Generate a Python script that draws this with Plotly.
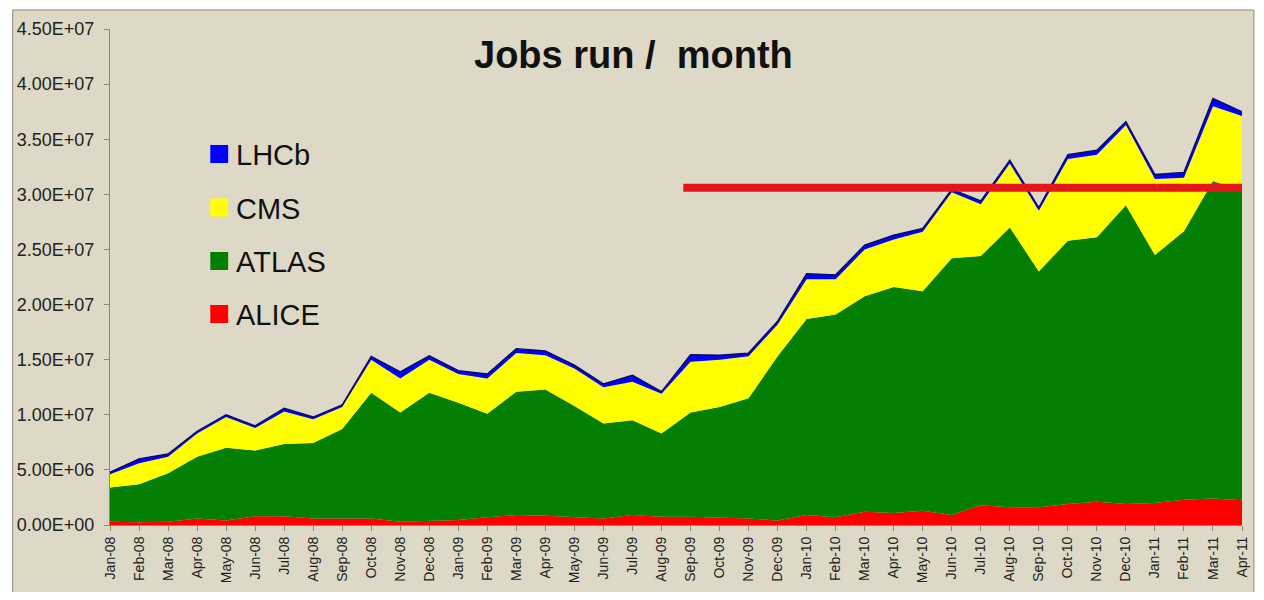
import plotly.graph_objects as go

# months on the x axis
months = [
    "Jan-08", "Feb-08", "Mar-08", "Apr-08", "May-08", "Jun-08", "Jul-08", "Aug-08",
    "Sep-08", "Oct-08", "Nov-08", "Dec-08", "Jan-09", "Feb-09", "Mar-09", "Apr-09",
    "May-09", "Jun-09", "Jul-09", "Aug-09", "Sep-09", "Oct-09", "Nov-09", "Dec-09",
    "Jan-10", "Feb-10", "Mar-10", "Apr-10", "May-10", "Jun-10", "Jul-10", "Aug-10",
    "Sep-10", "Oct-10", "Nov-10", "Dec-10", "Jan-11", "Feb-11", "Mar-11", "Apr-11",
]

# jobs per month, millions
alice = [0.3, 0.25, 0.3, 0.6, 0.4, 0.8, 0.8, 0.6, 0.6, 0.6, 0.3, 0.4, 0.45, 0.7, 0.9, 0.85,
         0.7, 0.6, 0.9, 0.75, 0.75, 0.7, 0.6, 0.4, 0.9, 0.7, 1.2, 1.1, 1.3, 0.9, 1.8, 1.6,
         1.6, 1.9, 2.1, 1.9, 2.0, 2.3, 2.4, 2.25]
atlas = [3.1, 3.45, 4.4, 5.6, 6.6, 5.95, 6.55, 6.85, 8.1, 11.4, 9.9, 11.6, 10.65, 9.4, 11.2, 11.45,
         10.1, 8.6, 8.6, 7.55, 9.45, 10.0, 10.9, 14.9, 17.8, 18.4, 19.55, 20.5, 19.9, 23.3, 22.6, 25.4,
         21.4, 23.9, 24.0, 27.1, 22.5, 24.35, 28.8, 28.05]
cms = [1.2, 1.9, 1.5, 2.1, 2.8, 2.05, 2.95, 2.15, 2.0, 3.0, 3.1, 3.0, 2.6, 3.2, 3.5, 3.1,
       3.4, 3.3, 3.5, 3.6, 4.6, 4.3, 3.8, 2.9, 3.6, 3.2, 4.25, 4.3, 5.4, 6.0, 4.7, 5.8,
       5.5, 7.4, 7.5, 7.3, 6.9, 4.85, 6.8, 6.8]
lhcb = [0.2, 0.4, 0.25, 0.2, 0.2, 0.2, 0.3, 0.2, 0.2, 0.3, 0.6, 0.35, 0.3, 0.4, 0.4, 0.4,
        0.3, 0.3, 0.6, 0.2, 0.65, 0.4, 0.3, 0.3, 0.5, 0.4, 0.4, 0.4, 0.3, 0.25, 0.3, 0.3,
        0.3, 0.4, 0.4, 0.3, 0.4, 0.5, 0.7, 0.4]

# target line level and where it starts / ends (category index)
target_level = 30.6e6
target_start = 19.75
target_end = 39.15

ytick_vals = [i * 5e6 for i in range(10)]
ytick_text = [f"{v:.2E}" for v in ytick_vals]

BG = "#DDD9C6"
FONT = "Liberation Sans, Arial, sans-serif"

# page has an 8px body margin, so the figure is a bit smaller than the window
OFF = 8
W, H = 1264 - 2 * OFF, 600 - 2 * OFF
# plot area in page pixels (for placing legend / title)
L, R, T, B = 110, 1250, 29, 525


def px_x(px):
    return (px - L) / (R - L)


def px_y(py):
    return (B - py) / (B - T)


series = [
    ("ALICE", alice, "#FF0000"),
    ("ATLAS", atlas, "#037F03"),
    ("CMS", cms, "#FFFF00"),
    ("LHCb", lhcb, "#0000FF"),
]

fig = go.Figure()
for name, vals, color in series:
    top = name == "LHCb"
    fig.add_trace(go.Scatter(
        x=months,
        y=[v * 1e6 for v in vals],
        name=name,
        mode="lines",
        stackgroup="one",
        fillcolor=color,
        line=dict(color="#0A0A55" if top else color, width=1.3 if top else 0),
        showlegend=False,
    ))

# target line
fig.add_shape(type="line", xref="x", yref="y",
              x0=target_start, x1=target_end, y0=target_level, y1=target_level,
              line=dict(color="#E3161B", width=8), layer="above")

# chart frame
fig.add_shape(type="rect", xref="paper", yref="paper",
              x0=px_x(12), x1=px_x(1262), y0=px_y(600), y1=px_y(10),
              fillcolor=BG, line=dict(color="#8C8876", width=1), layer="below")

# legend drawn by hand: LHCb on top
legend_rows = [154, 207.5, 261, 314]
for (name, _, color), yc in zip(reversed(series), legend_rows):
    fig.add_shape(type="rect", xref="paper", yref="paper",
                  x0=px_x(211), x1=px_x(229), y0=px_y(yc + 9), y1=px_y(yc - 9),
                  fillcolor=color, line=dict(width=0), layer="above")
    fig.add_annotation(xref="paper", yref="paper", x=px_x(235), y=px_y(yc + 1),
                       text=name, showarrow=False, xanchor="left", yanchor="middle",
                       font=dict(family=FONT, size=29, color="#111111"))

# title
fig.add_annotation(xref="paper", yref="paper", x=px_x(637), y=px_y(55),
                   text="<b>Jobs run /&nbsp; month</b>", showarrow=False,
                   xanchor="center", yanchor="middle",
                   font=dict(family=FONT, size=38, color="#111111"))

fig.update_layout(
    width=W,
    height=H,
    margin=dict(l=L - OFF, r=W - (R - OFF), t=T - OFF, b=H - (B - OFF)),
    paper_bgcolor="white",
    plot_bgcolor=BG,
    font=dict(family=FONT, color="#222222"),
    xaxis=dict(
        type="category",
        range=[0, len(months) - 1],
        tickmode="array",
        tickvals=months,
        ticktext=months,
        tickangle=-90,
        tickfont=dict(size=14, color="#222222"),
        ticks="outside",
        ticklen=5,
        tickcolor="#8C8876",
        showline=True,
        linecolor="#8C8876",
        showgrid=False,
        zeroline=False,
    ),
    yaxis=dict(
        range=[0, 4.5e7],
        tickmode="array",
        tickvals=ytick_vals,
        ticktext=ytick_text,
        tickfont=dict(size=18, color="#222222"),
        ticks="outside",
        ticklen=5,
        tickcolor="#8C8876",
        ticklabelstandoff=6,
        showline=True,
        linecolor="#8C8876",
        showgrid=False,
        zeroline=False,
    ),
    hovermode=False,
)

fig.write_html("out.html")
